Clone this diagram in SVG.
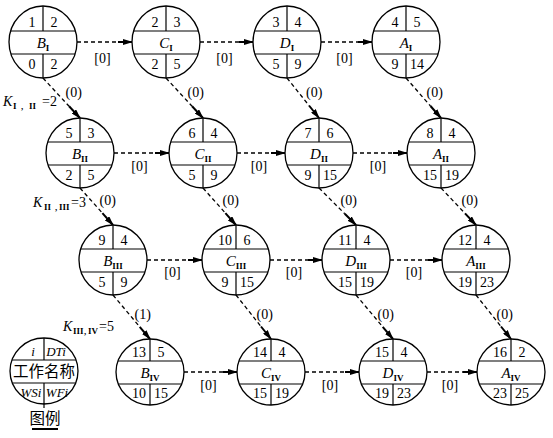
<svg xmlns="http://www.w3.org/2000/svg" xmlns:xlink="http://www.w3.org/1999/xlink" width="553" height="438" viewBox="0 0 553 438">
<style>
.sk ellipse{fill:#fff;stroke:#000;stroke-width:1.3}
.sk line{stroke:#000;stroke-width:1.2}
text{font-family:"Liberation Serif","Times New Roman",serif;fill:#000}
.num{font-size:14px;text-anchor:middle}
.name{font-size:15px;font-style:italic;text-anchor:middle}
.sub{font-size:9px;font-style:normal;font-weight:bold}
.lbl{font-size:14px}
.lblc{font-size:14px;text-anchor:middle}
.k{font-size:14px}
.ks{font-size:9px;font-weight:bold}
.dash{stroke:#000;stroke-width:1.3;stroke-dasharray:4 3;fill:none}
.solid{stroke:#000;stroke-width:2;fill:none;marker-end:url(#ah)}
.leg{font-size:13px;font-style:italic;text-anchor:middle}
.cjk{font-family:"Liberation Serif","Noto Sans CJK SC",serif;font-size:15.5px;text-anchor:middle}
</style>
<defs>
<marker id="ah" viewBox="0 0 10 6" refX="9" refY="3" markerWidth="10" markerHeight="6" markerUnits="userSpaceOnUse" orient="auto"><path d="M0,0 L10,3 L0,6 z" fill="#000"/></marker>
<g id="sk36" class="sk"><ellipse cx="0" cy="0" rx="34" ry="36"/><line x1="-32.4" y1="-11" x2="32.4" y2="-11"/><line x1="-32.1" y1="12" x2="32.1" y2="12"/><line x1="0" y1="-36" x2="0" y2="-11"/><line x1="0" y1="12" x2="0" y2="36"/></g>
<g id="sk35" class="sk"><ellipse cx="0" cy="0" rx="34" ry="35"/><line x1="-32.3" y1="-11" x2="32.3" y2="-11"/><line x1="-31.9" y1="12" x2="31.9" y2="12"/><line x1="0" y1="-35" x2="0" y2="-11"/><line x1="0" y1="12" x2="0" y2="35"/></g>
<g id="sk33" class="sk"><ellipse cx="0" cy="0" rx="34" ry="33"/><line x1="-32.1" y1="-11" x2="32.1" y2="-11"/><line x1="-31.7" y1="12" x2="31.7" y2="12"/><line x1="0" y1="-33" x2="0" y2="-11"/><line x1="0" y1="12" x2="0" y2="33"/></g>
</defs>
<rect width="553" height="438" fill="#fff"/>

<g id="connectors">
<line class="dash" x1="77" y1="42" x2="118" y2="42"/><line class="solid" x1="118" y1="42" x2="132" y2="42"/>
<line class="dash" x1="200" y1="42" x2="239" y2="42"/><line class="solid" x1="239" y1="42" x2="253" y2="42"/>
<line class="dash" x1="321" y1="42" x2="358" y2="42"/><line class="solid" x1="358" y1="42" x2="372" y2="42"/>
<line class="dash" x1="114" y1="153" x2="155" y2="153"/><line class="solid" x1="155" y1="153" x2="169" y2="153"/>
<line class="dash" x1="237" y1="153" x2="271" y2="153"/><line class="solid" x1="271" y1="153" x2="285" y2="153"/>
<line class="dash" x1="353" y1="153" x2="393" y2="153"/><line class="solid" x1="393" y1="153" x2="407" y2="153"/>
<line class="dash" x1="147" y1="260" x2="188" y2="260"/><line class="solid" x1="188" y1="260" x2="202" y2="260"/>
<line class="dash" x1="270" y1="260" x2="308" y2="260"/><line class="solid" x1="308" y1="260" x2="322" y2="260"/>
<line class="dash" x1="390" y1="260" x2="428" y2="260"/><line class="solid" x1="428" y1="260" x2="442" y2="260"/>
<line class="dash" x1="184" y1="372" x2="223" y2="372"/><line class="solid" x1="223" y1="372" x2="237" y2="372"/>
<line class="dash" x1="305" y1="372" x2="345" y2="372"/><line class="solid" x1="345" y1="372" x2="359" y2="372"/>
<line class="dash" x1="427" y1="372" x2="463" y2="372"/><line class="solid" x1="463" y1="372" x2="477" y2="372"/>
<line class="dash" x1="43" y1="78" x2="69.1" y2="106.3"/><line class="solid" x1="69.1" y1="106.3" x2="80" y2="118"/>
<line class="dash" x1="166" y1="78" x2="192.1" y2="106.3"/><line class="solid" x1="192.1" y1="106.3" x2="203" y2="118"/>
<line class="dash" x1="287" y1="78" x2="309" y2="105.5"/><line class="solid" x1="309" y1="105.5" x2="319" y2="118"/>
<line class="dash" x1="406" y1="78" x2="430.5" y2="106"/><line class="solid" x1="430.5" y1="106" x2="441" y2="118"/>
<line class="dash" x1="80" y1="188" x2="102.4" y2="213.1"/><line class="solid" x1="102.4" y1="213.1" x2="113" y2="225"/>
<line class="dash" x1="203" y1="188" x2="225.4" y2="213.1"/><line class="solid" x1="225.4" y1="213.1" x2="236" y2="225"/>
<line class="dash" x1="319" y1="188" x2="344.7" y2="213.7"/><line class="solid" x1="344.7" y1="213.7" x2="356" y2="225"/>
<line class="dash" x1="441" y1="188" x2="465" y2="213.4"/><line class="solid" x1="465" y1="213.4" x2="476" y2="225"/>
<line class="dash" x1="113" y1="295" x2="139.7" y2="326.8"/><line class="solid" x1="139.7" y1="326.8" x2="150" y2="339"/>
<line class="dash" x1="236" y1="295" x2="261" y2="326.5"/><line class="solid" x1="261" y1="326.5" x2="271" y2="339"/>
<line class="dash" x1="356" y1="295" x2="382.7" y2="326.8"/><line class="solid" x1="382.7" y1="326.8" x2="393" y2="339"/>
<line class="dash" x1="476" y1="295" x2="501" y2="326.5"/><line class="solid" x1="501" y1="326.5" x2="511" y2="339"/>
<text class="lblc" x="102.5" y="63">[0]</text>
<text class="lblc" x="224.5" y="63">[0]</text>
<text class="lblc" x="344.5" y="63">[0]</text>
<text class="lblc" x="139.5" y="171">[0]</text>
<text class="lblc" x="259" y="171">[0]</text>
<text class="lblc" x="378" y="171">[0]</text>
<text class="lblc" x="172.5" y="277">[0]</text>
<text class="lblc" x="294" y="277">[0]</text>
<text class="lblc" x="414" y="277">[0]</text>
<text class="lblc" x="208.5" y="390">[0]</text>
<text class="lblc" x="330" y="390">[0]</text>
<text class="lblc" x="450" y="390">[0]</text>
<text class="lbl" x="65.5" y="97">(0)</text>
<text class="lbl" x="187.5" y="97">(0)</text>
<text class="lbl" x="306" y="97">(0)</text>
<text class="lbl" x="426.5" y="97">(0)</text>
<text class="lbl" x="99.5" y="205">(0)</text>
<text class="lbl" x="222.5" y="205">(0)</text>
<text class="lbl" x="340.5" y="205">(0)</text>
<text class="lbl" x="461.5" y="205">(0)</text>
<text class="lbl" x="134.5" y="319">(1)</text>
<text class="lbl" x="256.5" y="319">(0)</text>
<text class="lbl" x="377.5" y="319">(0)</text>
<text class="lbl" x="496.5" y="319">(0)</text>
</g>

<g id="k-labels">
<text class="k" x="3" y="106"><tspan font-style="italic">K</tspan><tspan class="ks" x="13" y="109">I</tspan><tspan class="ks" x="21" y="109">,</tspan><tspan class="ks" x="29" y="109">II</tspan><tspan x="42" y="106">=2</tspan></text>
<text class="k" x="33" y="207"><tspan font-style="italic">K</tspan><tspan class="ks" x="44" y="210">II</tspan><tspan class="ks" x="55" y="210">,</tspan><tspan class="ks" x="59" y="210">III</tspan><tspan x="71" y="207">=3</tspan></text>
<text class="k" x="63" y="331"><tspan font-style="italic">K</tspan><tspan class="ks" x="73" y="334">III</tspan><tspan class="ks" x="84" y="334">,</tspan><tspan class="ks" x="88" y="334">IV</tspan><tspan x="99" y="331">=5</tspan></text>
</g>

<g id="B1"><use xlink:href="#sk36" href="#sk36" x="43" y="42"/>
<text class="num" x="32" y="27">1</text><text class="num" x="54" y="27">2</text>
<text class="name" x="43" y="48">B<tspan class="sub" dy="3">I</tspan></text>
<text class="num" x="32" y="69">0</text><text class="num" x="54" y="69">2</text></g>
<g id="C1"><use xlink:href="#sk36" href="#sk36" x="166" y="42"/>
<text class="num" x="155" y="27">2</text><text class="num" x="177" y="27">3</text>
<text class="name" x="166" y="48">C<tspan class="sub" dy="3">I</tspan></text>
<text class="num" x="155" y="69">2</text><text class="num" x="177" y="69">5</text></g>
<g id="D1"><use xlink:href="#sk36" href="#sk36" x="287" y="42"/>
<text class="num" x="276" y="27">3</text><text class="num" x="298" y="27">4</text>
<text class="name" x="287" y="48">D<tspan class="sub" dy="3">I</tspan></text>
<text class="num" x="276" y="69">5</text><text class="num" x="298" y="69">9</text></g>
<g id="A1"><use xlink:href="#sk36" href="#sk36" x="406" y="42"/>
<text class="num" x="395" y="27">4</text><text class="num" x="417" y="27">5</text>
<text class="name" x="406" y="48">A<tspan class="sub" dy="3">I</tspan></text>
<text class="num" x="395" y="69">9</text><text class="num" x="417" y="69">14</text></g>

<g id="B2"><use xlink:href="#sk35" href="#sk35" x="80" y="153"/>
<text class="num" x="69" y="138">5</text><text class="num" x="91" y="138">3</text>
<text class="name" x="80" y="159">B<tspan class="sub" dy="3">II</tspan></text>
<text class="num" x="69" y="180">2</text><text class="num" x="91" y="180">5</text></g>
<g id="C2"><use xlink:href="#sk35" href="#sk35" x="203" y="153"/>
<text class="num" x="192" y="138">6</text><text class="num" x="214" y="138">4</text>
<text class="name" x="203" y="159">C<tspan class="sub" dy="3">II</tspan></text>
<text class="num" x="192" y="180">5</text><text class="num" x="214" y="180">9</text></g>
<g id="D2"><use xlink:href="#sk35" href="#sk35" x="319" y="153"/>
<text class="num" x="308" y="138">7</text><text class="num" x="330" y="138">6</text>
<text class="name" x="319" y="159">D<tspan class="sub" dy="3">II</tspan></text>
<text class="num" x="308" y="180">9</text><text class="num" x="330" y="180">15</text></g>
<g id="A2"><use xlink:href="#sk35" href="#sk35" x="441" y="153"/>
<text class="num" x="430" y="138">8</text><text class="num" x="452" y="138">4</text>
<text class="name" x="441" y="159">A<tspan class="sub" dy="3">II</tspan></text>
<text class="num" x="430" y="180">15</text><text class="num" x="452" y="180">19</text></g>

<g id="B3"><use xlink:href="#sk35" href="#sk35" x="113" y="260"/>
<text class="num" x="102" y="245">9</text><text class="num" x="124" y="245">4</text>
<text class="name" x="113" y="266">B<tspan class="sub" dy="3">III</tspan></text>
<text class="num" x="102" y="287">5</text><text class="num" x="124" y="287">9</text></g>
<g id="C3"><use xlink:href="#sk35" href="#sk35" x="236" y="260"/>
<text class="num" x="225" y="245">10</text><text class="num" x="247" y="245">6</text>
<text class="name" x="236" y="266">C<tspan class="sub" dy="3">III</tspan></text>
<text class="num" x="225" y="287">9</text><text class="num" x="247" y="287">15</text></g>
<g id="D3"><use xlink:href="#sk35" href="#sk35" x="356" y="260"/>
<text class="num" x="345" y="245">11</text><text class="num" x="367" y="245">4</text>
<text class="name" x="356" y="266">D<tspan class="sub" dy="3">III</tspan></text>
<text class="num" x="345" y="287">15</text><text class="num" x="367" y="287">19</text></g>
<g id="A3"><use xlink:href="#sk35" href="#sk35" x="476" y="260"/>
<text class="num" x="465" y="245">12</text><text class="num" x="487" y="245">4</text>
<text class="name" x="476" y="266">A<tspan class="sub" dy="3">III</tspan></text>
<text class="num" x="465" y="287">19</text><text class="num" x="487" y="287">23</text></g>

<g id="B4"><use xlink:href="#sk33" href="#sk33" x="150" y="372"/>
<text class="num" x="139" y="357">13</text><text class="num" x="161" y="357">5</text>
<text class="name" x="150" y="378">B<tspan class="sub" dy="3">IV</tspan></text>
<text class="num" x="139" y="398">10</text><text class="num" x="161" y="398">15</text></g>
<g id="C4"><use xlink:href="#sk33" href="#sk33" x="271" y="372"/>
<text class="num" x="260" y="357">14</text><text class="num" x="282" y="357">4</text>
<text class="name" x="271" y="378">C<tspan class="sub" dy="3">IV</tspan></text>
<text class="num" x="260" y="398">15</text><text class="num" x="282" y="398">19</text></g>
<g id="D4"><use xlink:href="#sk33" href="#sk33" x="393" y="372"/>
<text class="num" x="382" y="357">15</text><text class="num" x="404" y="357">4</text>
<text class="name" x="393" y="378">D<tspan class="sub" dy="3">IV</tspan></text>
<text class="num" x="382" y="398">19</text><text class="num" x="404" y="398">23</text></g>
<g id="A4"><use xlink:href="#sk33" href="#sk33" x="511" y="372"/>
<text class="num" x="500" y="357">16</text><text class="num" x="522" y="357">2</text>
<text class="name" x="511" y="378">A<tspan class="sub" dy="3">IV</tspan></text>
<text class="num" x="500" y="398">23</text><text class="num" x="522" y="398">25</text></g>

<g id="legend"><use xlink:href="#sk33" href="#sk33" x="44" y="371"/>
<line x1="44" y1="403" x2="44" y2="408" stroke="#000" stroke-width="1.2"/>
<text class="leg" x="33" y="356">i</text><text class="leg" x="56" y="356">DTi</text>
<text class="cjk" x="44" y="377">工作名称</text>
<text class="leg" x="31" y="397">WSi</text><text class="leg" x="57" y="397">WFi</text>
<text class="cjk" x="45" y="424">图例</text>
<line x1="32" y1="429" x2="58" y2="429" stroke="#000" stroke-width="2"/>
</g>
</svg>
